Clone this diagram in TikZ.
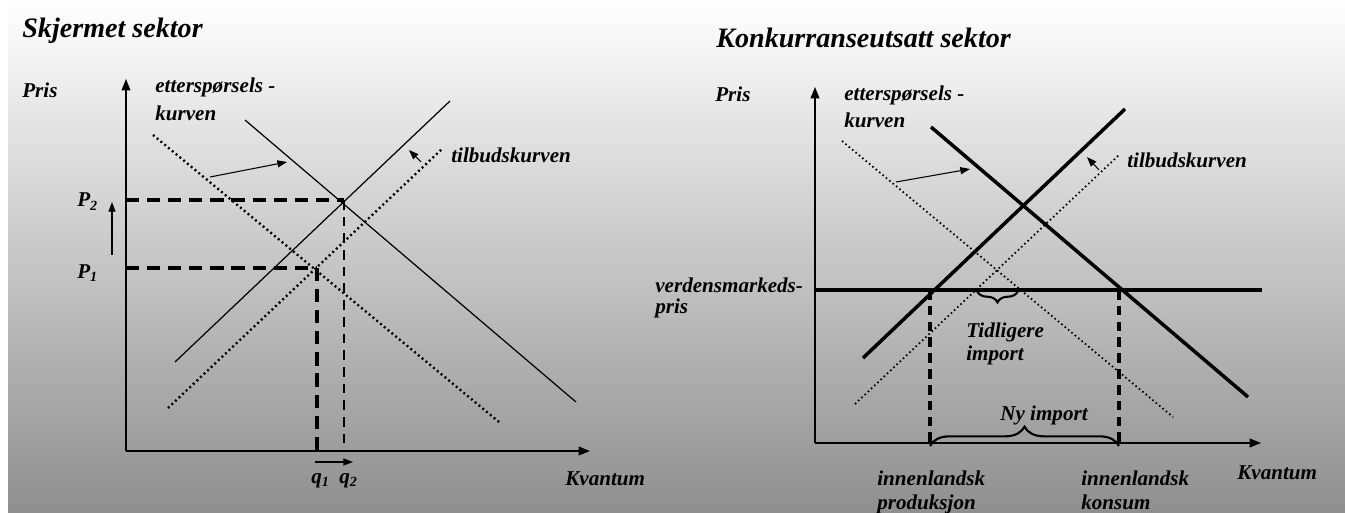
\documentclass[tikz,border=0pt]{standalone}
\usepackage{fontspec}
\setmainfont{Liberation Serif}
\usetikzlibrary{arrows.meta,decorations.pathreplacing}

\tikzset{
  lbl/.style={font=\bfseries\itshape\fontsize{12}{14}\selectfont, anchor=base west, inner sep=0pt},
  ttl/.style={font=\bfseries\itshape\fontsize{16}{19}\selectfont, anchor=base west, inner sep=0pt},
  axis/.style={line width=0.8pt, -{Triangle[length=6.5pt,width=5pt]}},
  movearrow/.style={line width=0.6pt, -{Triangle[length=5.5pt,width=4pt]}},
  oldcurve/.style={line width=1.35pt, dash pattern=on 1.1pt off 1.7pt},
  thindots/.style={line width=1pt, dash pattern=on 0.9pt off 1.6pt},
  thickdash/.style={line width=2.2pt, dash pattern=on 7.5pt off 4.5pt},
  thindash/.style={line width=1.3pt, dash pattern=on 5.5pt off 4pt},
  bracket/.style={line width=1.2pt, decorate, decoration={brace, amplitude=#1}}
}

\begin{document}
\begin{tikzpicture}[x=0.02cm, y=-0.02cm]
\useasboundingbox (0,0) rectangle (1345,513);
\clip (0,0) rectangle (1345,513);
\shade[top color=white, bottom color=black!44] (8,0) rectangle (1345,513);

% Skjermet sektor
\coordinate (o1) at (126,451);
\coordinate (y1) at (126,79);
\coordinate (x1) at (590,451);
\draw[axis] (o1) -- (y1);
\draw[axis] (o1) -- (x1);

\coordinate (E1) at (317,268);
\coordinate (E2) at (344,200);
\coordinate (p1) at (126,268);
\coordinate (p2) at (126,200);
\coordinate (q1) at (317,451);
\coordinate (q2) at (344,451);

\draw[oldcurve] (153,135) -- (499,422);
\draw[line width=0.7pt] (245,120) -- (576,402);
\draw[oldcurve] (168,408) -- (442,149);
\draw[line width=0.7pt] (175,362) -- (450,101);

\draw[thickdash] (p2) -- (E2);
\draw[thindash] (E2) -- (q2);
\draw[thickdash] (p1) -- (E1);
\draw[thickdash] (E1) -- (q1);

\coordinate (d1a) at (210,177);
\coordinate (d1b) at (287,162);
\coordinate (s1a) at (421,162);
\coordinate (s1b) at (409,150);
\coordinate (pa) at (112,255);
\coordinate (pb) at (112,202);
\coordinate (qa) at (315,462);
\coordinate (qb) at (353,462);
\draw[movearrow] (d1a) -- (d1b);
\draw[movearrow] (s1a) -- (s1b);
\draw[movearrow] (pa) -- (pb);
\draw[movearrow] (qa) -- (qb);

\node[ttl] (title1) at (22,38) {Skjermet sektor};
\node[lbl] (pris1) at (22,98) {Pris};
\node[lbl] (dem1a) at (155,93) {etterspørsels -};
\node[lbl] (dem1b) at (155,121) {kurven};
\node[lbl] (sup1) at (451,163) {tilbudskurven};
\node[lbl] (P2) at (77,207) {P\textsubscript{2}};
\node[lbl] (P1) at (77,278) {P\textsubscript{1}};
\node[lbl] (ql1) at (311,483) {q\textsubscript{1}};
\node[lbl] (ql2) at (339,483) {q\textsubscript{2}};
\node[lbl] (kv1) at (565,485) {Kvantum};

% Konkurranseutsatt sektor
\coordinate (o2) at (815,443);
\coordinate (y2) at (815,87);
\coordinate (x2) at (1261,443);
\draw[axis] (o2) -- (y2);
\draw[axis] (o2) -- (x2);

\draw[thindots] (842,141) -- (1173,417);
\draw[line width=2pt] (931,127) -- (1248,397);
\draw[thindots] (855,404) -- (1119,155);
\draw[line width=2pt] (863,358) -- (1125,109);

\coordinate (w1) at (815,290);
\coordinate (w2) at (1262,290);
\draw[line width=2pt] (w1) -- (w2);

\coordinate (A) at (930,290);
\coordinate (B) at (1119,290);
\coordinate (Ab) at (930,443);
\coordinate (Bb) at (1119,443);
\draw[thickdash, dash pattern=on 5.5pt off 3.5pt] (A) -- (Ab);
\draw[thickdash, dash pattern=on 5.5pt off 3.5pt] (B) -- (Bb);

\coordinate (t1) at (1018,291);
\coordinate (t2) at (977,291);
\draw[bracket=6.5pt] (t1) -- (t2);
\coordinate (n1) at (930,446);
\coordinate (n2) at (1119,446);
\draw[bracket=11pt] (n1) -- (n2);

\coordinate (d2a) at (896,182);
\coordinate (d2b) at (970,169);
\coordinate (s2a) at (1099,170);
\coordinate (s2b) at (1087,157);
\draw[movearrow] (d2a) -- (d2b);
\draw[movearrow] (s2a) -- (s2b);

\node[ttl] (title2) at (716,48) {Konkurranseutsatt sektor};
\node[lbl] (pris2) at (715,102) {Pris};
\node[lbl] (dem2a) at (844,101) {etterspørsels -};
\node[lbl] (dem2b) at (844,128) {kurven};
\node[lbl] (sup2) at (1127,168) {tilbudskurven};
\node[lbl] (wpa) at (655,292) {verdensmarkeds-};
\node[lbl] (wpb) at (655,313) {pris};
\node[lbl] (oldimpa) at (966,337) {Tidligere};
\node[lbl] (oldimpb) at (966,360) {import};
\node[lbl] (newimp) at (1000,420) {Ny import};
\node[lbl] (proda) at (877,485) {innenlandsk};
\node[lbl] (prodb) at (877,509) {produksjon};
\node[lbl] (kona) at (1081,485) {innenlandsk};
\node[lbl] (konb) at (1081,509) {konsum};
\node[lbl] (kv2) at (1237,479) {Kvantum};
\end{tikzpicture}
\end{document}
